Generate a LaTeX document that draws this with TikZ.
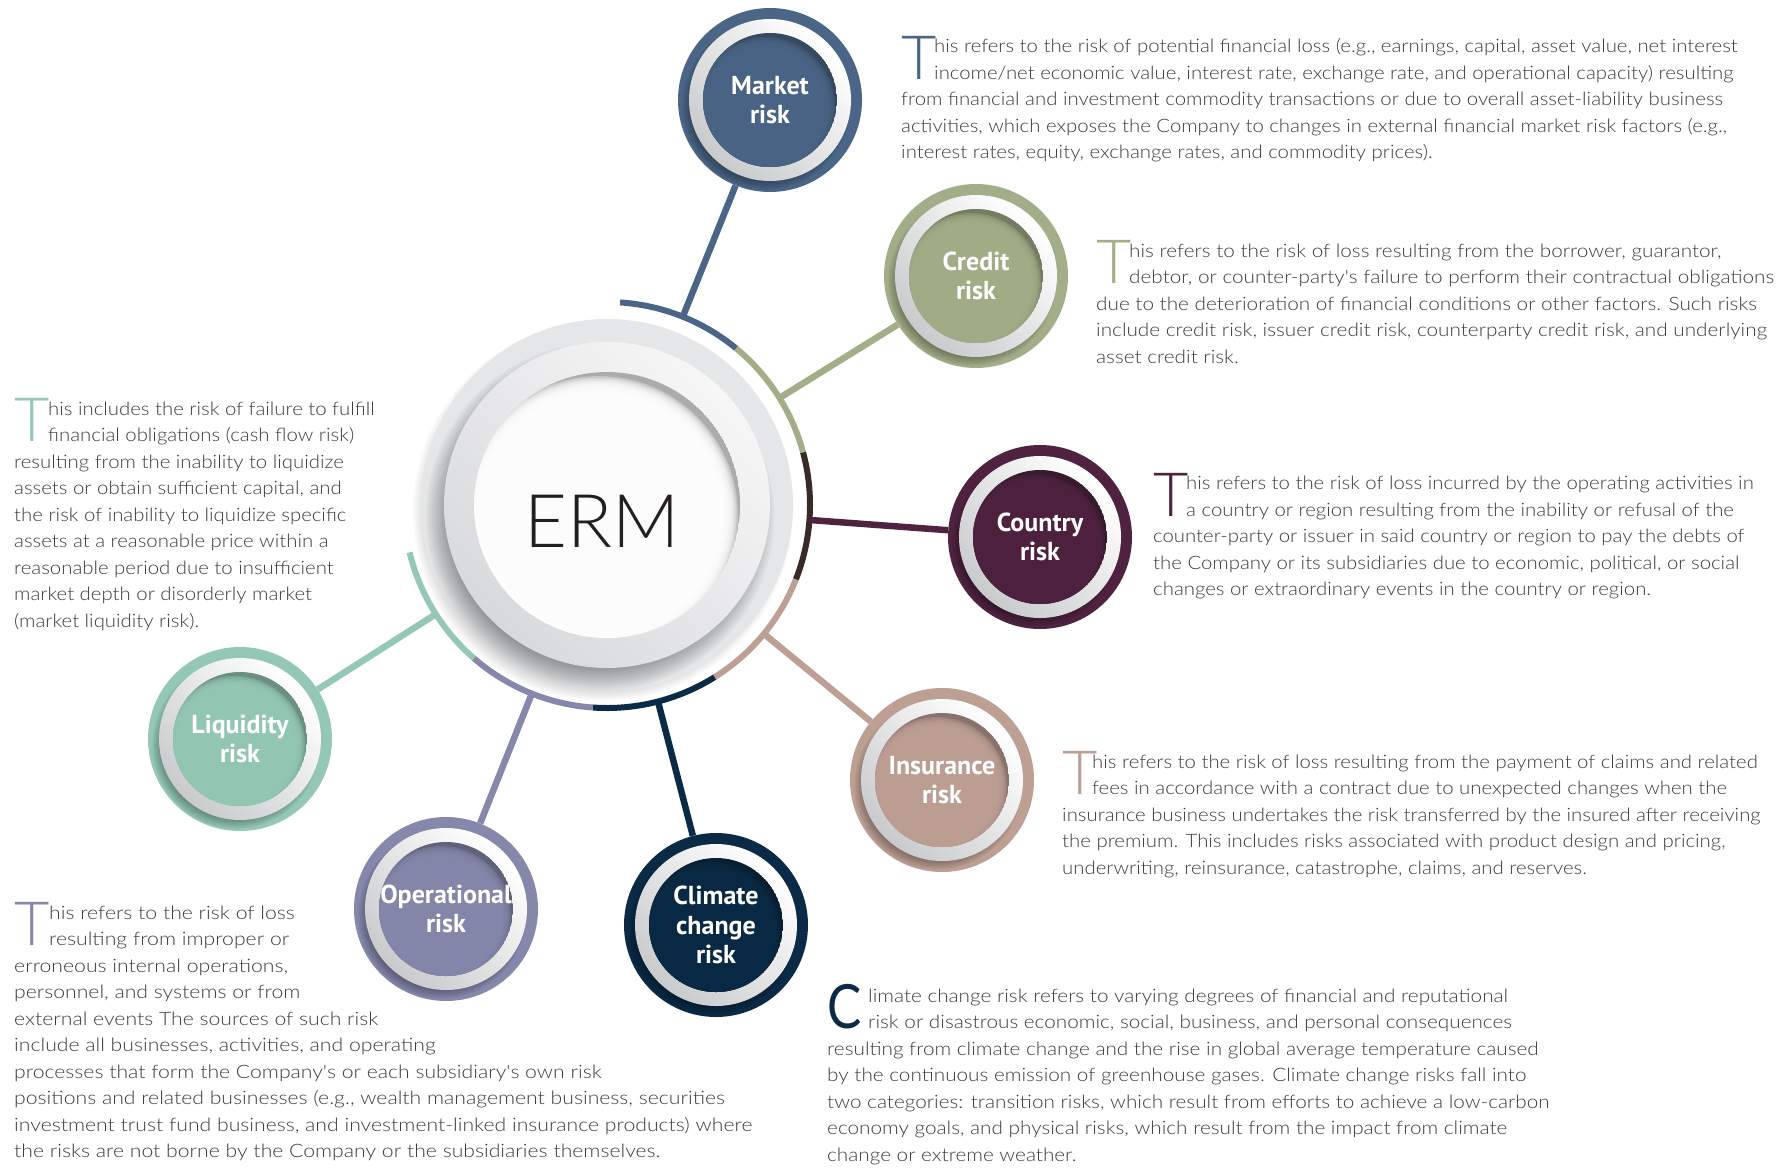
\documentclass[tikz,border=0pt]{standalone}
\usepackage{fontspec}
\newfontfamily\bodyfont{Lato Light}[FakeStretch=1.10]
\newfontfamily\bodyfontw{Lato Light}[FakeStretch=1.12]
\newfontfamily\bodyfontx{Lato Light}[FakeStretch=1.145]
\newfontfamily\capfont{Lato Light}
\newfontfamily\capfontreg{Lato}[FakeStretch=0.84]
\newfontfamily\labelfont{PT Sans}
\definecolor{mkcol}{HTML}{4A6585}
\definecolor{crcol}{HTML}{A1AE87}
\definecolor{cocol}{HTML}{4F2340}
\definecolor{cobar}{HTML}{3A2A26}
\definecolor{incol}{HTML}{BD9F94}
\definecolor{clcol}{HTML}{0B2A45}
\definecolor{opcol}{HTML}{8587AB}
\definecolor{lqcol}{HTML}{94C8B5}
\definecolor{txtgray}{HTML}{3D3D3D}
\definecolor{ringgray}{HTML}{C9CACC}
\definecolor{ermouter}{HTML}{E5E6E7}
\definecolor{ermmidA}{HTML}{D8D9DB}
\definecolor{ermmidB}{HTML}{F6F6F7}
\definecolor{ermshadow}{HTML}{ABABAB}
\definecolor{ermtxt}{HTML}{231F20}

\tikzset{
  bodytxt/.style={anchor=base west, inner sep=0pt, text=txtgray},
  dropcap/.style={anchor=base west, inner sep=0pt, font=\capfont\fontsize{61}{61}\selectfont},
  risklabel/.style={circle, minimum size=184pt, inner sep=0pt, align=center, text=white, font=\labelfont\bfseries\fontsize{26}{29.5}\selectfont},
  link/.style={line width=6.5pt},
  arcseg/.style={line width=6pt},
}

% #1 name, #2 x, #3 first baseline, #4 indent, #5 drop letter, #6 drop style, #7 lines, #8 body font
\newcommand{\riskpara}[8]{%
  \node[dropcap, #6] (#1drop) at (#2, {#3+26.5}) {#5};
  \foreach \rline [count=\i] in {#7} {
    \pgfmathsetmacro{\xx}{\i<3 ? #2+#4 : #2}
    \node[bodytxt, font=#8\fontsize{18.5}{22}\selectfont] (#1\i) at (\xx, {#3+(\i-1)*26.5}) {\rline};
  }
}

\newcommand{\satellite}[5]{%
  \fill[#4] (#2,#3) circle[radius=92pt];
  \begin{scope}
    \clip (#2,#3) circle[radius=92pt];
    \foreach \k in {0,...,6} \fill[black, opacity=0.05] ({#2-4},{#3+6}) circle[radius=74pt+\k*1.6pt];
  \end{scope}
  \shade[top color=ringgray, bottom color=white, shading angle=135] (#2,#3) circle[radius=81pt];
  \begin{scope}
    \clip (#2,#3) circle[radius=67pt];
    \fill[#4!72!black] (#2,#3) circle[radius=67pt];
    \foreach \k in {0,...,7} \fill[#4, opacity=0.4] ({#2-5},{#3+7}) circle[radius=70pt-\k*1.6pt];
  \end{scope}
  \node[risklabel] (#1) at (#2,#3) {#5};
}

\begin{document}
\begin{tikzpicture}[x=1pt,y=-1pt]
\fill[white] (0,0) rectangle (1776,1167);
\useasboundingbox (0,0) rectangle (1776,1167);

% ---------- central ERM ----------
\coordinate (ermc) at (607,505);
\foreach \k in {0,...,5} \fill[black, opacity=0.025] (603,511) circle[radius=180pt+\k*2pt];
\fill[ermouter] (607,505) circle[radius=186pt];
\begin{scope}
  \clip (607,505) circle[radius=186pt];
  \foreach \k in {0,...,12} \fill[black, opacity=0.03] (600,517) circle[radius=150pt+\k*2pt];
\end{scope}
\shade[top color=ermmidA, bottom color=ermmidB, shading angle=135] (607,505) circle[radius=163pt];
\begin{scope}
  \clip (607,505) circle[radius=133pt];
  \fill[ermshadow] (607,505) circle[radius=133pt];
  \foreach \k in {0,...,14} \fill[white, opacity=0.3] (599,515) circle[radius=139pt-\k*1.5pt];
\end{scope}
\node[anchor=base, inner sep=0pt, text=ermtxt, font=\capfont\fontsize{74}{74}\selectfont] (ermlabel) at (602,547) {ERM};
\node[circle, minimum size=406pt, inner sep=0pt] (ring) at (607,505) {};

% ---------- coloured arc ----------
\draw[arcseg, mkcol] (ermc) ++(86.3:203pt) arc[start angle=86.3, end angle=50.5, radius=203pt];
\draw[arcseg, crcol] (ermc) ++(50.5:203pt) arc[start angle=50.5, end angle=15, radius=203pt];
\draw[arcseg, cobar] (ermc) ++(15:203pt) arc[start angle=15, end angle=-21.5, radius=203pt];
\draw[arcseg, incol] (ermc) ++(-21.5:203pt) arc[start angle=-21.5, end angle=-58, radius=203pt];
\draw[arcseg, clcol] (ermc) ++(-58:203pt) arc[start angle=-58, end angle=-94, radius=203pt];
\draw[arcseg, opcol] (ermc) ++(-94:203pt) arc[start angle=-94, end angle=-131, radius=203pt];
\draw[arcseg, lqcol] (ermc) ++(-131:203pt) arc[start angle=-131, end angle=-166.5, radius=203pt];

% ---------- satellites ----------
\satellite{mk}{770}{100}{mkcol}{Market\\risk}
\satellite{cr}{976}{276}{crcol}{Credit\\risk}
\satellite{co}{1040}{537}{cocol}{Country\\risk}
\satellite{in}{942}{780}{incol}{Insurance\\risk}
\satellite{cl}{716}{925}{clcol}{Climate\\change\\risk}
\satellite{op}{446}{909}{opcol}{Operational\\risk}
\satellite{lq}{240}{739}{lqcol}{Liquidity\\risk}

% ---------- connectors ----------
\draw[link, mkcol] (ring) -- (mk);
\draw[link, crcol] (ring) -- (cr);
\draw[link, cocol] (ring) -- (co);
\draw[link, incol] (ring) -- (in);
\draw[link, clcol] (ring) -- (cl);
\draw[link, opcol] (ring) -- (op);
\draw[link, lqcol] (ring) -- (lq);

% ---------- texts ----------
\riskpara{mkt}{901}{52.5}{33}{T}{text=mkcol}{%
 {his refers to the risk of potential financial loss (e.g., earnings, capital, asset value, net interest},
 {income/net economic value, interest rate, exchange rate, and operational capacity) resulting},
 {from financial and investment commodity transactions or due to overall asset-liability business},
 {activities, which exposes the Company to changes in external financial market risk factors (e.g.,},
 {interest rates, equity, exchange rates, and commodity prices).}}{\bodyfont}

\riskpara{crt}{1096}{257}{33}{T}{text=crcol}{%
 {his refers to the risk of loss resulting from the borrower, guarantor,},
 {debtor, or counter-party's failure to perform their contractual obligations},
 {due to the deterioration of financial conditions or other factors. Such risks},
 {include credit risk, issuer credit risk, counterparty credit risk, and underlying},
 {asset credit risk.}}{\bodyfontw}

\riskpara{cot}{1153}{489.5}{33}{T}{text=cocol}{%
 {his refers to the risk of loss incurred by the operating activities in},
 {a country or region resulting from the inability or refusal of the},
 {counter-party or issuer in said country or region to pay the debts of},
 {the Company or its subsidiaries due to economic, political, or social},
 {changes or extraordinary events in the country or region.}}{\bodyfont}

\riskpara{int}{1062}{768}{30}{T}{text=incol}{%
 {his refers to the risk of loss resulting from the payment of claims and related},
 {fees in accordance with a contract due to unexpected changes when the},
 {insurance business undertakes the risk transferred by the insured after receiving},
 {the premium. This includes risks associated with product design and pricing,},
 {underwriting, reinsurance, catastrophe, claims, and reserves.}}{\bodyfont}

\riskpara{clt}{827}{1002}{41}{C}{text=clcol, font=\capfontreg\fontsize{61}{61}\selectfont}{%
 {limate change risk refers to varying degrees of financial and reputational},
 {risk or disastrous economic, social, business, and personal consequences},
 {resulting from climate change and the rise in global average temperature caused},
 {by the continuous emission of greenhouse gases. Climate change risks fall into},
 {two categories: transition risks, which result from efforts to achieve a low-carbon},
 {economy goals, and physical risks, which result from the impact from climate},
 {change or extreme weather.}}{\bodyfontw}

\riskpara{lqt}{14}{415}{34}{T}{text=lqcol}{%
 {his includes the risk of failure to fulfill},
 {financial obligations (cash flow risk)},
 {resulting from the inability to liquidize},
 {assets or obtain sufficient capital, and},
 {the risk of inability to liquidize specific},
 {assets at a reasonable price within a},
 {reasonable period due to insufficient},
 {market depth or disorderly market},
 {(market liquidity risk).}}{\bodyfont}

\riskpara{opt}{14}{919}{35}{T}{text=opcol}{%
 {his refers to the risk of loss},
 {resulting from improper or},
 {erroneous internal operations,},
 {personnel, and systems or from},
 {external events The sources of such risk},
 {include all businesses, activities, and operating},
 {processes that form the Company's or each subsidiary's own risk},
 {positions and related businesses (e.g., wealth management business, securities},
 {investment trust fund business, and investment-linked insurance products) where},
 {the risks are not borne by the Company or the subsidiaries themselves.}}{\bodyfontx}
\end{tikzpicture}
\end{document}
